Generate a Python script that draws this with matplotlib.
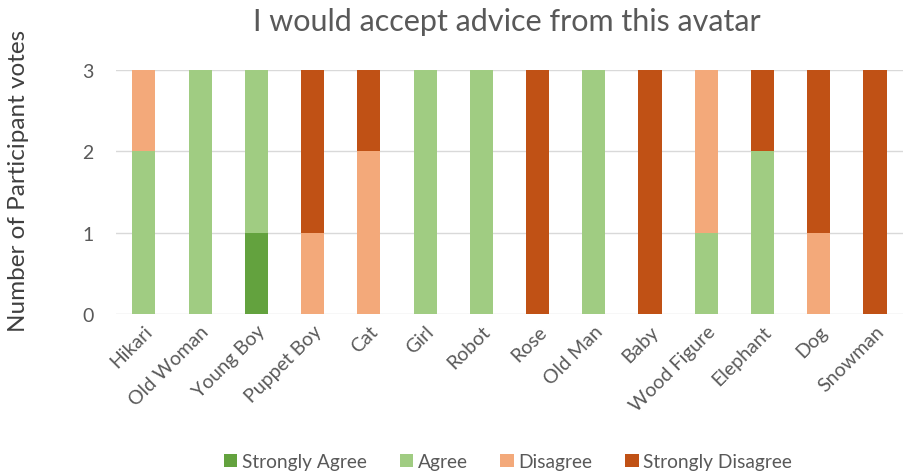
import matplotlib.pyplot as plt
import numpy as np

plt.rcParams['font.family'] = ['Lato', 'DejaVu Sans']

# Datos
avatares = ['Hikari', 'Old Woman', 'Young Boy', 'Puppet Boy', 'Cat', 'Girl',
            'Robot', 'Rose', 'Old Man', 'Baby', 'Wood Figure', 'Elephant',
            'Dog', 'Snowman']
muy_de_acuerdo = [0, 0, 1, 0, 0, 0, 0, 0, 0, 0, 0, 0, 0, 0]
de_acuerdo = [2, 3, 2, 0, 0, 3, 3, 0, 3, 0, 1, 2, 0, 0]
desacuerdo = [1, 0, 0, 1, 2, 0, 0, 0, 0, 0, 2, 0, 1, 0]
muy_desacuerdo = [0, 0, 0, 2, 1, 0, 0, 3, 0, 3, 0, 1, 2, 3]

series = [('Strongly Agree', muy_de_acuerdo, '#63A23E'),
          ('Agree', de_acuerdo, '#A0CC82'),
          ('Disagree', desacuerdo, '#F3A97A'),
          ('Strongly Disagree', muy_desacuerdo, '#C05115')]

fig = plt.figure(figsize=(9.04, 4.77), dpi=100)
ax = fig.add_axes([0.128, 0.34, 0.871, 0.511])

x = np.arange(len(avatares))
base = np.zeros(len(avatares))
for nombre, valores, color in series:
    ax.bar(x, valores, width=0.41, bottom=base, color=color, label=nombre,
           zorder=3)
    base = base + np.array(valores)

ax.set_xlim(-0.5, len(avatares) - 0.5)
ax.set_ylim(0, 3)
ax.set_yticks([0, 1, 2, 3])
ax.grid(axis='y', color='#D9D9D9', linewidth=1, zorder=0)
for s in ax.spines.values():
    s.set_visible(False)
ax.tick_params(length=0, colors='#595959', labelsize=14)
ax.tick_params(axis='y', pad=16)
ax.tick_params(axis='x', pad=6)
ax.set_xticks(x)
ax.set_xticklabels(avatares, rotation=45, ha='right', rotation_mode='anchor')

ax.set_ylabel('Number of Participant votes', fontsize=17.5, color='#3F3F3F')
ax.yaxis.set_label_coords(-0.11, 0.55)
fig.text(0.561, 0.953, 'I would accept advice from this avatar',
         ha='center', va='center', fontsize=22, color='#595959')

fig.legend(loc='center', bbox_to_anchor=(0.562, 0.03), ncol=4, frameon=False,
           fontsize=13.8, handlelength=0.7, handleheight=0.7,
           handletextpad=0.25, columnspacing=1.7, labelcolor='#595959')

fig.savefig('out.png', dpi=100)
